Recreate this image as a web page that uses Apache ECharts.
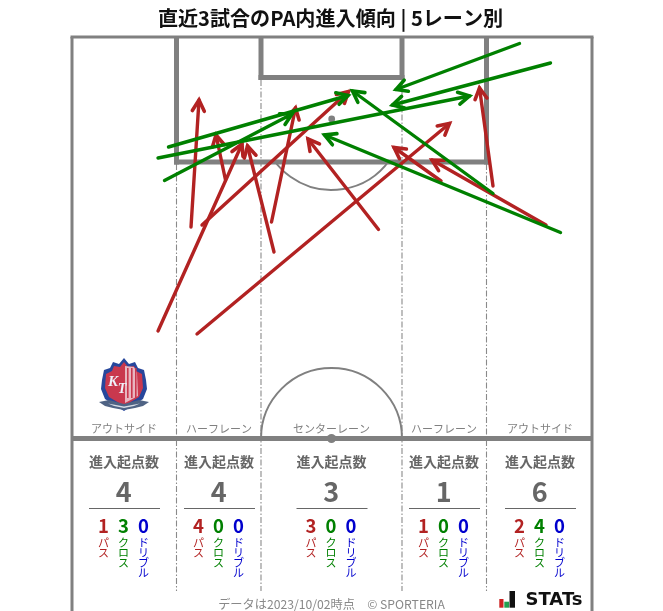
<!DOCTYPE html>
<html><head><meta charset="utf-8">
<style>html,body{margin:0;padding:0;background:#fff}#c{width:663px;height:611px}</style>
<script src="https://cdn.jsdelivr.net/npm/echarts@6/dist/echarts.min.js"></script>
</head><body><div id="c"></div>
<script>
const titleText = '直近3試合のPA内進入傾向 | 5レーン別';
const zoneNames = ['アウトサイド','ハーフレーン','センターレーン','ハーフレーン','アウトサイド'];
const zoneCentres = [124,219,331.5,444,540];
const zoneTotals = [4,4,3,1,6];
const passCounts = [1,4,3,1,2];
const crossCounts = [3,0,0,0,4];
const dribbleCounts = [0,0,0,0,0];
const typeNames = ['パス','クロス','ドリブル'];
// [startX, startY, endX, endY]
const passArrows = [
  [191,227,199,100],[225.5,180,216,135],[158,331,242,144],[274,252,247.5,146],
  [271.5,222,295.5,108],[202,225,348.5,91.5],[378.5,229.5,308,139],[197,334,449.5,123.5],
  [441,181,394,147.5],[546,225,432,160],[493,186,479.5,88]
];
const crossArrows = [
  [168.5,147,348,95.5],[158,158,469.5,96],[164.5,180.5,292,114],[519.5,43.5,396,89.5],
  [550.5,63,392.5,105],[493,193.5,352.5,91],[560.5,232.5,324.5,135]
];
const RED='#b22222', GREEN='#008000', BLUE='#0000cd', PITCH='#808080', SUB='#666666';
const JP='"Noto Sans CJK JP","Noto Sans",sans-serif';

// pitch: [x1,y1,x2,y2,width]
const pitchLines = [
  [70.5,37,593.5,37,3],[72,37,72,611,3],[592,37,592,611,3],
  [176.5,37,176.5,164.5,5],[486.5,37,486.5,164.5,5],[174,162,489,162,5],
  [261,37,261,80,5],[402,37,402,80,5],[258.5,77.5,404.5,77.5,5],
  [72,438.5,592,438.5,5]
];
const laneDash = [[176.5,164],[261,80],[402,80],[486.5,164]];

function line(api,p,w,color){
  const a=api.coord([p[0],p[1]]), b=api.coord([p[2],p[3]]);
  return {type:'line',shape:{x1:a[0],y1:a[1],x2:b[0],y2:b[1]},style:{stroke:color,lineWidth:w,fill:null}};
}
function arrowSeries(data,color,z){
  return {type:'custom',coordinateSystem:'cartesian2d',z,silent:true,data,clip:false,
    encode:{x:[0,2],y:[1,3]},
    renderItem(params,api){
      const a=api.coord([api.value(0),api.value(1)]), b=api.coord([api.value(2),api.value(3)]);
      const ang=Math.atan2(a[1]-b[1],a[0]-b[0]), L=12.5, s=0.5;
      const h1=[b[0]+L*Math.cos(ang+s),b[1]+L*Math.sin(ang+s)];
      const h2=[b[0]+L*Math.cos(ang-s),b[1]+L*Math.sin(ang-s)];
      return {type:'group',children:[
        {type:'line',shape:{x1:a[0],y1:a[1],x2:b[0],y2:b[1]},style:{stroke:color,lineWidth:3.4,fill:null,lineCap:'round'}},
        {type:'polyline',shape:{points:[h1,b,h2]},style:{stroke:color,lineWidth:3.6,fill:null,lineCap:'round',lineJoin:'miter'}}
      ]};
    }};
}
function txt(api,x,y,text,font,color,extra){
  const c=api.coord([x,y]);
  return {type:'text',x:c[0],y:c[1],style:Object.assign({text,font,fill:color,align:'center',verticalAlign:'middle'},extra||{})};
}
const pitchSeries = {type:'custom',coordinateSystem:'cartesian2d',z:1,silent:true,clip:false,
  data:[[0,0]],encode:{x:0,y:1},
  renderItem(params,api){
    const ch=[];
    laneDash.forEach(d=>{
      const el=line(api,[d[0],d[1],d[0],591],1.1,'#8a8a8a');
      el.style.lineDash=[6,2,1.5,2];
      ch.push(el);
    });
    const c1=api.coord([331.7,119]), c2=api.coord([331.5,438.5]);
    const r1=api.size([71,0])[0], r2=api.size([70.5,0])[0];
    ch.push({type:'arc',shape:{cx:c1[0],cy:c1[1],r:r1,startAngle:0.62,endAngle:Math.PI-0.62},style:{stroke:PITCH,lineWidth:2,fill:null}});
    ch.push({type:'arc',shape:{cx:c2[0],cy:c2[1],r:r2,startAngle:Math.PI,endAngle:2*Math.PI},style:{stroke:PITCH,lineWidth:2,fill:null}});
    pitchLines.forEach(p=>ch.push(line(api,p,p[4],PITCH)));
    ch.push({type:'circle',shape:{cx:c1[0],cy:c1[1],r:3.4},style:{fill:PITCH}});
    ch.push({type:'circle',shape:{cx:c2[0],cy:c2[1],r:4.5},style:{fill:PITCH}});
    return {type:'group',children:ch};
  }};
const textSeries = {type:'custom',coordinateSystem:'cartesian2d',z:5,silent:true,clip:false,
  data:[[0,0]],encode:{x:0,y:1},
  renderItem(params,api){
    const ch=[];
    ch.push(txt(api,330.5,18.5,titleText,'bold 20.1px '+JP,'#111'));
    zoneCentres.forEach((x,i)=>{
      ch.push(txt(api,x,428.5,zoneNames[i],'11px '+JP,'#808080'));
      ch.push(txt(api,x,462,'進入起点数','bold 14px '+JP,SUB));
      ch.push(txt(api,x-0.2,491.5,String(zoneTotals[i]),'bold 27px '+JP,SUB));
      ch.push(line(api,[x-35,508.5,x+36,508.5],1,SUB));
      const tx=[x-20.6,x-0.6,x+19.4];
      [[passCounts,RED],[crossCounts,GREEN],[dribbleCounts,BLUE]].forEach((t,k)=>{
        ch.push(txt(api,tx[k],526,String(t[0][i]),'bold 18.5px '+JP,t[1]));
        ch.push(txt(api,tx[k],538,typeNames[k].split('').join('\n'),'11px '+JP,t[1],{verticalAlign:'top',lineHeight:10}));
      });
    });
    ch.push(txt(api,331.5,604,'データは2023/10/02時点　© SPORTERIA','12.2px '+JP,'#888'));
    const bar=(x,y,w,h,c)=>{const p=api.coord([x,y]);return {type:'rect',shape:{x:p[0],y:p[1],width:w,height:h},style:{fill:c}};};
    ch.push(bar(499.3,599,4.2,8.7,'#cc2222'),bar(504.3,601.7,4.7,6,'#22a050'),bar(509.5,591,5.5,16.7,'#111'));
    ch.push(txt(api,554,600,'STATs','bold 18px "DejaVu Sans",sans-serif','#111'));
    // crest
    const cp=(x,y)=>api.coord([x,y]);
    const poly=(pts,fill)=>({type:'polygon',shape:{points:pts.map(p=>cp(p[0],p[1]))},style:{fill}});
    ch.push(poly([[124,358],[129,364],[135,362],[138,368],[144,370],[146,380],[147,389],[143,399],[124,411],[105,399],[101,389],[102,380],[104,370],[110,368],[113,362],[119,364]],'#27479c'));
    ch.push(poly([[124,362],[128,367],[134,366],[136,371],[142,374],[143,388],[139,397],[124,406],[109,397],[105,388],[106,374],[112,371],[114,366],[120,367]],'#c9384e'));
    ch.push(poly([[125,366],[134,367],[137,373],[138,396],[125,403]],'#e8b6c0'));
    [127,131,135].forEach(x=>ch.push(bar(x,368,1.6,30,'#c9384e')));
    ch.push(txt(api,113,382,'K','italic bold 15px "Liberation Serif",serif','#eef1fa'));
    ch.push(txt(api,122,389,'T','italic bold 14px "Liberation Serif",serif','#eef1fa'));
    ch.push(poly([[99,402],[109,400],[124,404],[139,400],[149,402],[143,406],[135,408],[124,410],[113,408],[105,406]],'#4f6384'));
    ch.push(poly([[108,403.5],[124,406.5],[140,403.5],[134,406],[124,408],[114,406]],'#d8dde6'));
    return {type:'group',children:ch};
  }};
const chart = echarts.init(document.getElementById('c'),null,{renderer:'canvas'});
chart.setOption({
  animation:false,
  backgroundColor:'#fff',
  grid:{left:0,right:0,top:0,bottom:0},
  xAxis:{type:'value',min:0,max:663,show:false},
  yAxis:{type:'value',min:0,max:611,inverse:true,show:false},
  series:[pitchSeries,arrowSeries(passArrows,RED,3),arrowSeries(crossArrows,GREEN,4),textSeries]
});
</script></body></html>
